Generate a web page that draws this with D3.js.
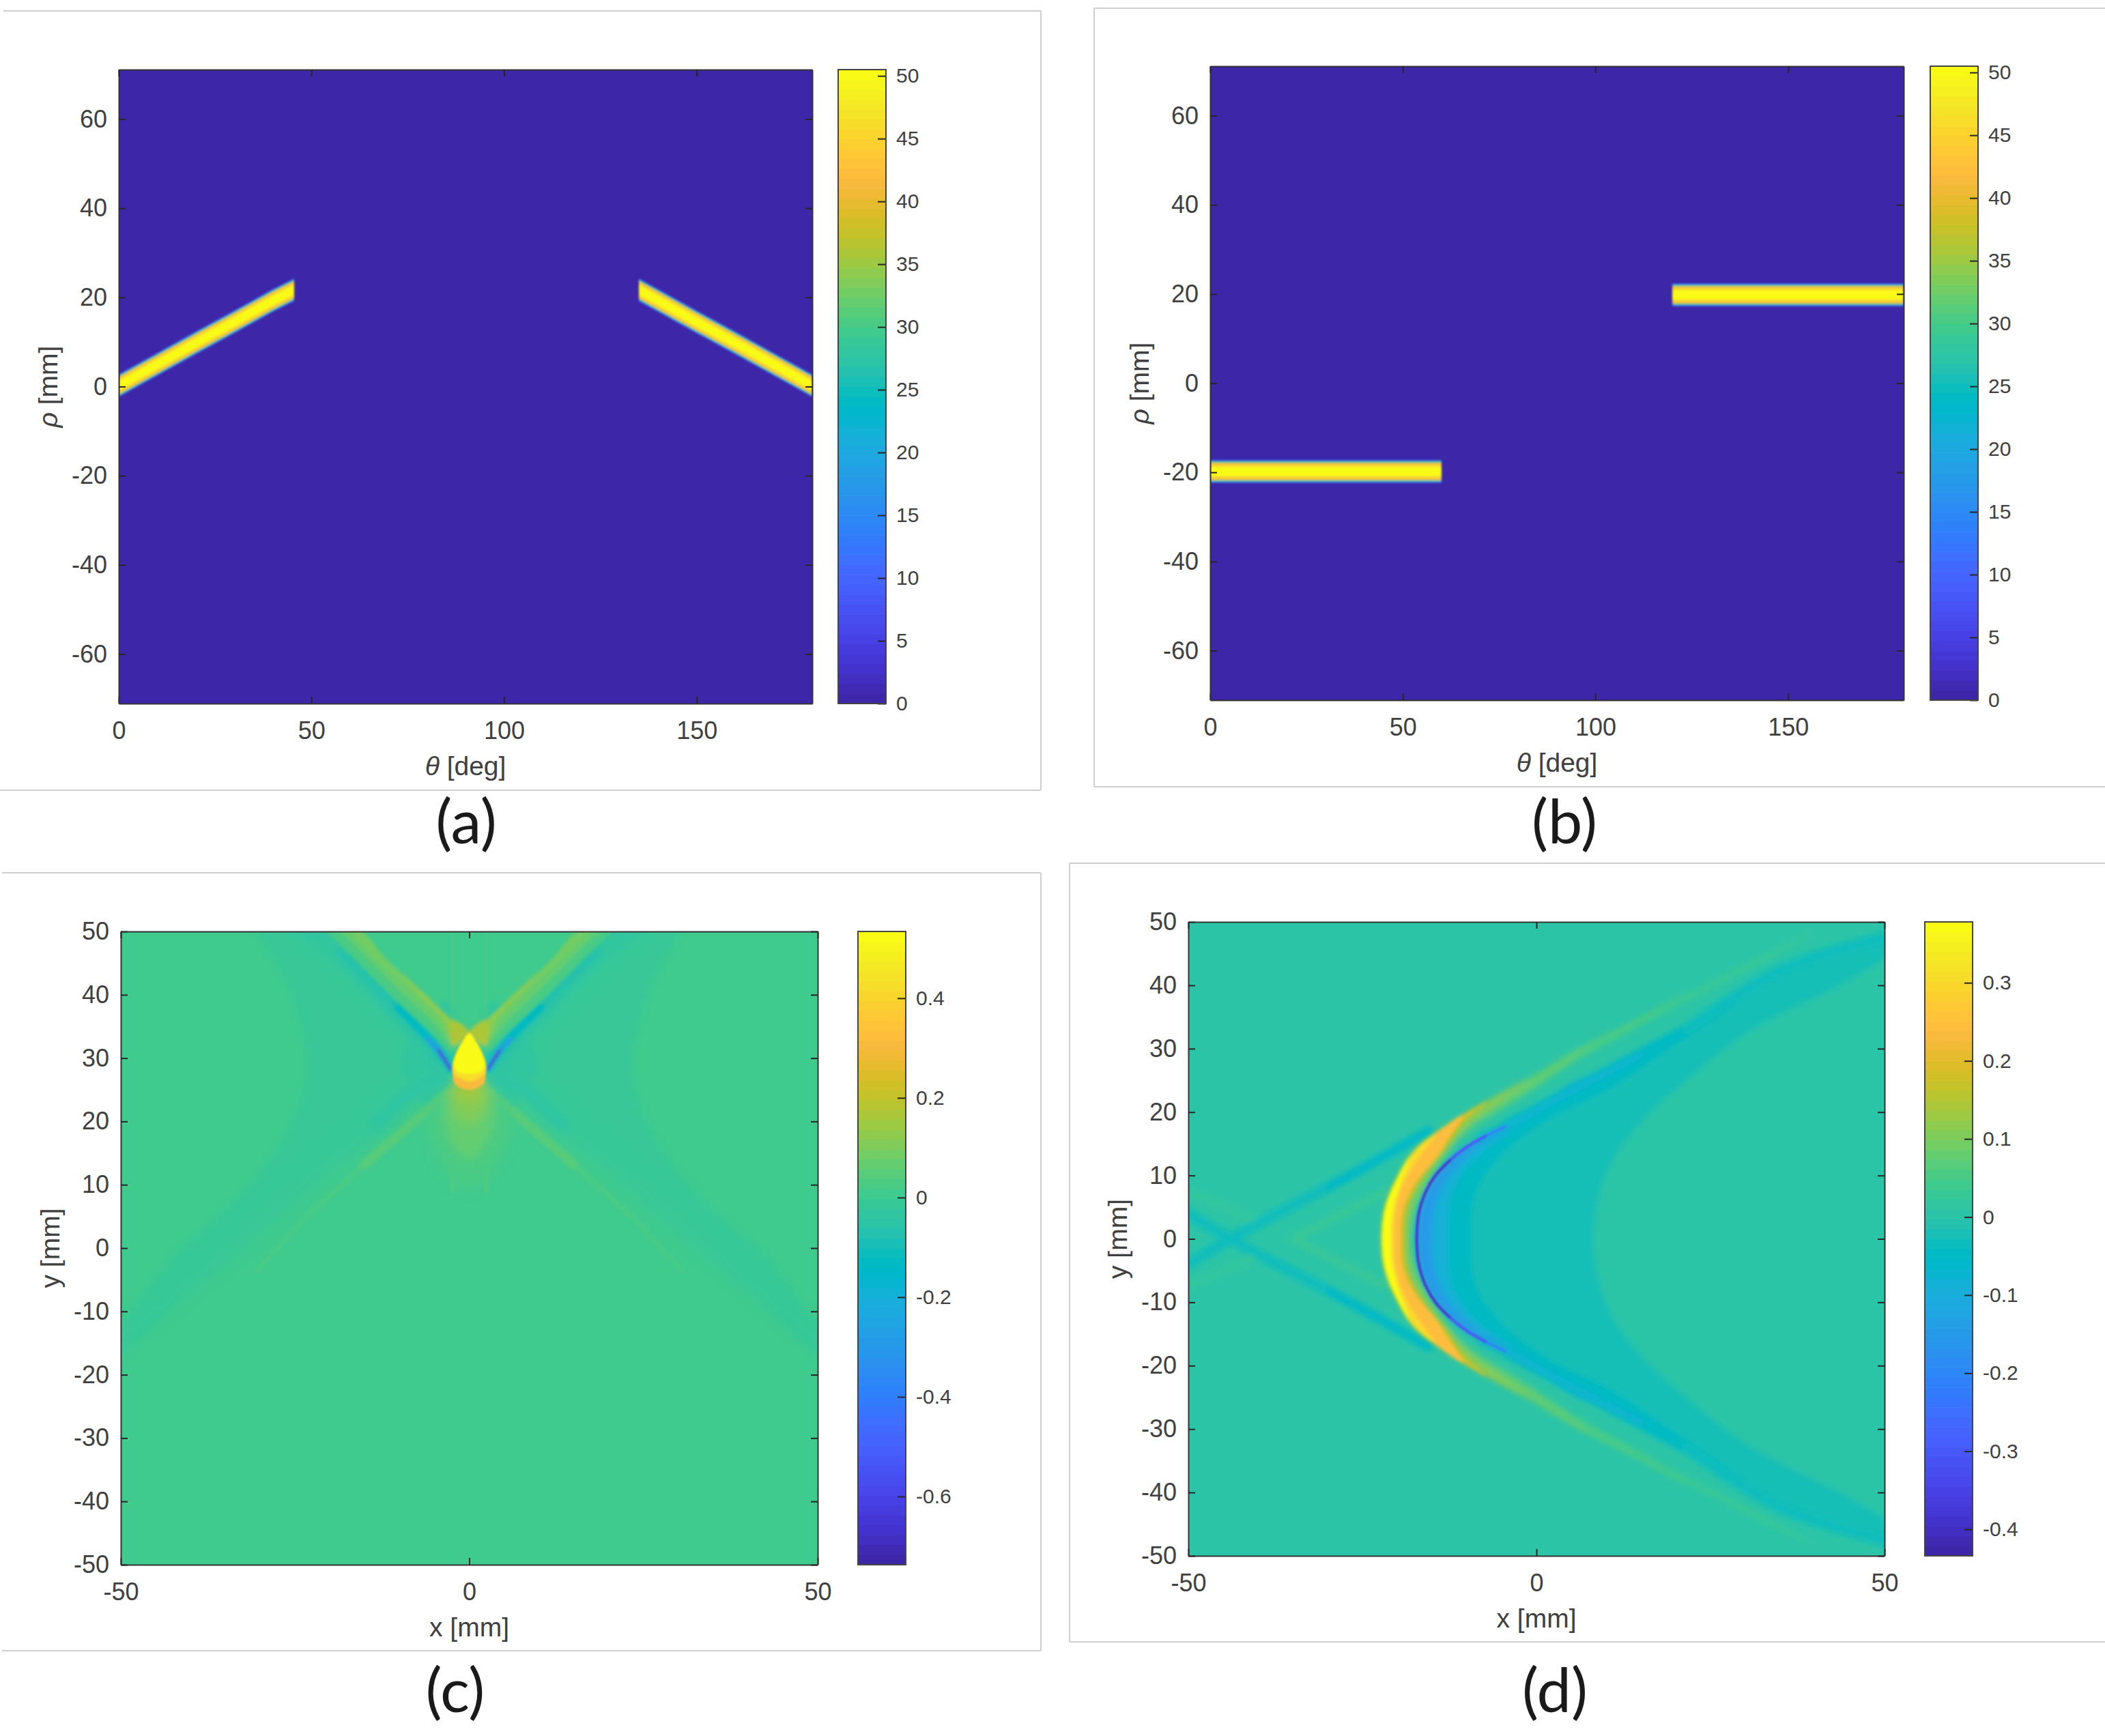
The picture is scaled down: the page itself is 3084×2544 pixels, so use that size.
<!DOCTYPE html>
<html>
<head>
<meta charset="utf-8">
<script src="https://cdn.jsdelivr.net/npm/d3@7"></script>
<style>
  body { margin: 0; background: #fff; }
  text { font-family: "Liberation Sans", Arial, sans-serif; fill: #404040; }
  .panelTag { font-family: Lato, "Open Sans", sans-serif; fill: #1a1a1a; }
</style>
</head>
<body>
<svg id="fig" width="3084" height="2544"></svg>
<script>
// parula colour table, one row per colorbar step
const parula = [
  [.2422,.1504,.6603],[.2504,.1650,.7076],[.2578,.1818,.7511],[.2647,.1978,.7952],
  [.2706,.2147,.8364],[.2751,.2342,.8710],[.2783,.2559,.8991],[.2803,.2782,.9221],
  [.2813,.3006,.9414],[.2810,.3228,.9579],[.2795,.3447,.9717],[.2760,.3667,.9829],
  [.2699,.3892,.9906],[.2602,.4123,.9952],[.2440,.4358,.9988],[.2206,.4603,.9973],
  [.1963,.4847,.9892],[.1834,.5074,.9798],[.1786,.5289,.9682],[.1764,.5499,.9520],
  [.1687,.5703,.9359],[.1540,.5902,.9218],[.1460,.6091,.9079],[.1380,.6276,.8973],
  [.1248,.6459,.8883],[.1113,.6635,.8763],[.0952,.6798,.8598],[.0689,.6948,.8394],
  [.0297,.7082,.8163],[.0036,.7203,.7917],[.0067,.7312,.7660],[.0433,.7411,.7394],
  [.0964,.7500,.7120],[.1408,.7584,.6842],[.1717,.7670,.6554],[.1938,.7758,.6251],
  [.2161,.7843,.5923],[.2470,.7918,.5567],[.2906,.7973,.5188],[.3406,.8008,.4789],
  [.3909,.8029,.4354],[.4456,.8024,.3909],[.5044,.7993,.3480],[.5616,.7942,.3045],
  [.6174,.7876,.2612],[.6720,.7793,.2227],[.7242,.7698,.1910],[.7738,.7598,.1646],
  [.8203,.7498,.1535],[.8634,.7406,.1596],[.9035,.7330,.1774],[.9393,.7288,.2100],
  [.9728,.7298,.2394],[.9956,.7434,.2371],[.9970,.7659,.2199],[.9952,.7893,.2028],
  [.9892,.8136,.1885],[.9786,.8386,.1766],[.9676,.8639,.1643],[.9610,.8890,.1537],
  [.9597,.9135,.1423],[.9628,.9373,.1265],[.9691,.9606,.1064],[.9769,.9839,.0805]
];

// tick values
const thetaTicks = [0, 50, 100, 150];
const rhoTicks = [-60, -40, -20, 0, 20, 40, 60];
const xyTicksX = [-50, 0, 50];
const xyTicksY = [-50, -40, -30, -20, -10, 0, 10, 20, 30, 40, 50];
const sinoBarTicks = [0, 5, 10, 15, 20, 25, 30, 35, 40, 45, 50];
const cBarTicks = [-0.6, -0.4, -0.2, 0, 0.2, 0.4];
const dBarTicks = [-0.4, -0.3, -0.2, -0.1, 0, 0.1, 0.2, 0.3];

// sinogram bands: theta [deg], rho [mm]
const aLeftTheta = [0, 10, 20, 30, 40, 45.5];
const aLeftRho = [0.2, 5.0, 9.8, 14.5, 19.3, 21.7];
const aRightTheta = [135, 140, 150, 160, 170, 180];
const aRightRho = [21.7, 19.3, 14.5, 9.8, 5.0, 0.2];
const bLeftTheta = [0, 60];
const bLeftRho = [-19.8, -19.8];
const bRightTheta = [120, 180];
const bRightRho = [19.8, 19.8];
// half width [mm] and value across a band, outside to core
const bandHalfWidth = [2.55, 2.35, 2.15, 1.85, 1.4, 0.95];
const bandValue = [8, 22, 33, 42, 47, 50.4];

// panel (c), image values. Left half only, mirrored in x when drawn
const cWedgeOuter = [[-30.5,52],[-26,41],[-23.4,29.4],[-25.5,19.8],[-32.6,8.8],[-43.3,-2.2],[-50,-12.5],[-54,-17],[-50,-16.6],[-36.2,-0.8],[-22,12.9],[-8,24],[-3,27],[-3,31],[-10,40],[-20,52]];
const cDiamondOuter = [[-3,39],[-9.8,29],[-3,20]];
const cDiamondInner = [[-2.5,34],[-6.2,29],[-2.5,23.5]];
const cTroughUpFull = [[-2.7,28.3],[-4.4,31.2],[-6.9,34.4],[-10.2,38],[-13.5,42],[-17.7,46.6],[-21.6,49.7],[-24,52]];
const cTroughUpMid = [[-2.7,28.3],[-4.4,31.2],[-6.9,34.4],[-10.2,38],[-13.5,42],[-17.7,46.6]];
const cTroughUpNear = [[-2.7,28.3],[-4.4,31.2],[-6.9,34.4],[-10.2,38]];
const cTroughUpCore = [[-2.7,28.3],[-4.4,31.2],[-6,33]];
const cTroughUpDeep = [[-2.7,28.3],[-4.4,31.2]];
const cTroughDownFull = [[-3,27.5],[-8.6,24.4],[-13.5,19.3],[-20,14],[-36,-1.5],[-52,-16]];
const cTroughDownNear = [[-3,27.5],[-8.6,24.4],[-13.5,19.3]];
const cRidgeDownFar = [[-23.3,5],[-30.5,-3.6]];
const cRidgeDownMid = [[-15,13.2],[-23.3,5]];
const cRidgeDownNear = [[-3,24.4],[-8.6,19.3],[-15,13.2]];
const cStripeUp = [[-2.4,36],[-2.4,50]];
const cStripeDown = [[-2.4,26],[-2.4,9]];
const cRay04 = [[0,34],[-2.4,36],[-6.9,40.6],[-11.8,45.5],[-15.7,50],[-17,52],[-22,52],[-19.5,49],[-10.4,39],[-5.4,34],[-2.4,31]];
const cRay08 = [[0,34],[-2.4,36],[-6.9,40.6],[-11.8,45.5],[-15.7,50],[-17,52],[-20,52],[-18,49.5],[-9.4,40],[-5,35.4],[-2.4,32]];
const cRay12 = [[0,34],[-2.4,36],[-6.9,40.6],[-11.8,45.5],[-15.4,50],[-16.8,50],[-8.6,40.8],[-4.6,36.2],[-2.4,32.6]];
const cRay16 = [[0,34],[-2.4,36],[-6.9,40.6],[-9.8,43.5],[-7,40],[-3.8,36.3],[-2.4,33]];
const cRay20 = [[0,34],[-2.4,36],[-2.4,32]];
// closed over x = 0: start and end on the axis
const cGlow03 = [[0,27],[-6,21],[-4,13],[0,9]];
const cGlow06 = [[0,27],[-3.4,24],[-2.8,17],[0,14]];
const cGlow10 = [[0,27],[-2.7,25],[-2,21],[0,19.5]];
const cGlow16 = [[0,27],[-2.4,26],[-1.6,23.6],[0,23]];
const cDrop30 = [[0,34],[-1,32.6],[-1.8,31],[-2.4,29],[-2.4,27.5],[-2.1,26],[-1,25.2],[0,25]];
const cDrop42 = [[0,34],[-1,32.6],[-1.8,31],[-2.4,29],[-2.2,27.5],[-1,26.6],[0,26.3]];
const cDrop50 = [[0,33.8],[-1,32.4],[-1.7,31],[-2.2,29],[-1.8,28],[0,27.5]];

const cTwinRegions = [[-0.01, cWedgeOuter], [-0.035, cDiamondOuter], [-0.06, cDiamondInner]];
const cTroughsWide = [[-0.035, 4, cTroughUpFull], [-0.07, 2.2, cTroughUpMid], [-0.02, 3, cTroughDownFull], [-0.06, 1.6, cTroughDownNear]];
const cTroughsNarrow = [[-0.13, 1.1, cTroughUpNear], [-0.3, 0.6, cTroughUpCore], [-0.65, 0.4, cTroughUpDeep]];
const cRidges = [[0.018, 0.6, cRidgeDownFar], [0.03, 0.8, cRidgeDownMid], [0.05, 1.4, cRidgeDownNear], [0.035, 0.3, cStripeUp], [0.07, 0.3, cStripeDown]];
const cRays = [[0.035, cRay04], [0.065, cRay08], [0.09, cRay12], [0.12, cRay16], [0.17, cRay20]];
const cGlow = [[0.03, cGlow03], [0.06, cGlow06], [0.1, cGlow10], [0.14, cGlow16]];
const cDrop = [[0.3, cDrop30], [0.42, cDrop42], [0.52, cDrop50]];

// panel (d), image values. Upper half only, mirrored in y when drawn
const dRegion17 = [[-17.2,0],[-16.9,4],[-15.9,7.4],[-14.5,10],[-12.4,12.4],[-10,14.5],[-7.3,16.2],[-4.5,17.7],[2,21.5],[8,25],[10,0]];
const dRegion15 = [[-15,0],[-14.4,6],[-12.6,10],[-9,14],[-4.5,17],[1,21],[8,25.2],[10,0]];
const dRegion13 = [[-12.7,0],[-12.2,7],[-9.3,12.2],[-4.5,16.4],[1,21],[8,25.2],[21.6,33],[30,38],[30,0]];
const dRegion09 = [[-9.3,0],[-8.9,6.7],[-5.9,12.2],[1,18.4],[11.3,24.2],[21.6,32],[35.4,42],[50,47.3],[65,57],[65,0]];
const dRegion08 = [[8.2,0],[9.9,10],[14.7,18],[21.6,25],[30.6,32.7],[43.6,40],[50,44],[65,53],[65,0]];
const dTroughArmNear = [[-4,18],[2,21.5],[8,25],[21.6,33]];
const dTroughArmFar = [[21.6,33],[35.4,42.5],[50,47.5]];
const dTroughNear = [[-8,16],[-4,18],[2,21.5],[8,25],[15,29]];
const dLeftTrough = [[-50,-4],[-44,0],[-39.6,2.6],[-26.5,10.2],[-17.6,15.7],[-15.5,17]];
const dLeftTroughCore = [[-30,8],[-26.5,10.2],[-17.6,15.7],[-15.5,17]];
const dLeftRidge = [[-35,0],[-26.5,4.7],[-21.7,7.4]];
const dFarRidge = [[-50,7.4],[-41,3.3]];
const dArc = [[-17.2,0],[-16.9,4],[-15.9,7.4],[-14.5,10],[-12.4,12.4],[-10,14.5],[-7.3,16.2],[-4.5,17.7]];
const dArcMid = [[-17.2,0],[-16.9,4],[-15.9,7.4],[-14.5,10],[-12.4,12.4],[-10,14.5],[-7.3,16.2]];
const dArcCore = [[-17.2,0],[-16.9,4],[-15.9,7.4],[-14.5,10],[-12.4,12.4]];
const dCrescent025 = [[-22.2,0],[-21.7,5],[-19.8,10],[-17.4,14],[-14,17],[-9,20.5],[-1.5,25],[6,30],[15,35],[24,40],[34,45.5],[40,48.5],[34,44.5],[24,38.7],[15,33.5],[6,28],[-1.5,22.5],[-8,18],[-12,14.5],[-15,10],[-17,5],[-17.9,0]];
const dCrescent05 = [[-22.2,0],[-21.7,5],[-19.8,10],[-17.4,14],[-14,17],[-9,20.5],[-1.5,25],[6,30],[15,35],[22,39],[15,34],[6,28.4],[-1.5,23],[-8,18.4],[-12,14.8],[-15,10.3],[-17.2,5],[-18,0]];
const dCrescent08 = [[-22.2,0],[-21.7,5],[-19.8,10],[-17.4,14],[-14,17],[-9,20.5],[-1.5,25],[8,31],[0,24.4],[-5,20.8],[-10,17.5],[-13,13.5],[-15.5,9],[-17.6,5],[-18.2,0]];
const dCrescent12 = [[-22.2,0],[-21.7,5],[-19.8,10],[-17.4,14],[-14,17],[-9,20.5],[-1,25.2],[-5,22],[-10,17.7],[-13,13.5],[-16,9.5],[-18,5],[-18.5,0]];
const dCrescent18 = [[-22.2,0],[-21.7,5],[-19.8,10],[-17.4,14],[-14,17],[-7,21.7],[-10.5,18.4],[-13.4,14],[-16.5,9.6],[-18.6,5],[-19,0]];
const dCrescent25 = [[-22.2,0],[-21.7,5],[-19.8,10],[-17.4,14],[-14,17],[-10.5,19.5],[-12.6,16],[-14.2,13],[-17.6,8.5],[-19.2,4.5],[-19.5,0]];
const dCrescent31 = [[-22.2,0],[-21.7,5],[-19.8,10],[-17.4,14],[-14.5,16.4],[-16.8,13],[-19,9],[-20.2,5],[-20.5,0]];
const dCrescent37 = [[-22.2,0],[-21.7,5],[-19.8,10],[-18.2,13],[-19.8,8],[-20.8,3.5],[-20.9,0]];

const dRegions = [[-0.15, dRegion17], [-0.085, dRegion15], [-0.045, dRegion13], [-0.02, dRegion09], [0.005, dRegion08]];
const dTroughs = [[-0.05, 1.6, dTroughArmNear], [-0.028, 1.6, dTroughArmFar], [-0.075, 1, dTroughNear], [-0.03, 1.4, dLeftTrough], [-0.065, 0.8, dLeftTroughCore], [0.03, 1.2, dLeftRidge], [0.02, 1.5, dFarRidge]];
const dCrescentArm = [[0.025, dCrescent025], [0.05, dCrescent05], [0.08, dCrescent08], [0.12, dCrescent12]];
const dCrescentCore = [[0.18, dCrescent18], [0.25, dCrescent25], [0.31, dCrescent31], [0.37, dCrescent37]];
const dArcs = [[-0.2, 0.45, dArc], [-0.3, 0.4, dArcMid], [-0.4, 0.3, dArcCore]];

const svg = d3.select("#fig");
const defs = svg.append("defs");

const blurs = [1.5, 2.5, 4, 8];
blurs.forEach(b => {
  defs.append("filter").attr("id", "blur" + String(b).replace(".", "_"))
      .attr("x", "-10%").attr("y", "-10%").attr("width", "120%").attr("height", "120%")
      .append("feGaussianBlur").attr("stdDeviation", b);
});
const blurUrl = b => `url(#blur${String(b).replace(".", "_")})`;

const parulaHex = parula.map(c => d3.rgb(c[0] * 255, c[1] * 255, c[2] * 255).formatHex());

function makeColor(lo, hi) {
  return d3.scaleQuantize().domain([lo, hi]).range(parulaHex);
}

// axes box, ticks on all four sides like matlab
function drawAxes(p, g, x, y, xTicks, yTicks, xLabel, yLabel) {
  const tick = 10;
  const fmt = d => String(d);
  const styleAxis = a => {
    a.selectAll("path").attr("stroke", "#333").attr("stroke-width", 2);
    a.selectAll("line").attr("stroke", "#262626").attr("stroke-width", 2);
    a.selectAll("text").style("font-size", "36px").attr("fill", "#404040");
  };
  g.append("g").attr("transform", `translate(0,${p.bottom})`)
    .call(d3.axisBottom(x).tickValues(xTicks).tickSizeInner(-tick).tickSizeOuter(0).tickPadding(26).tickFormat(fmt)).call(styleAxis);
  g.append("g").attr("transform", `translate(${p.left},0)`)
    .call(d3.axisLeft(y).tickValues(yTicks).tickSizeInner(-tick).tickSizeOuter(0).tickPadding(17).tickFormat(fmt)).call(styleAxis);
  g.append("g").attr("transform", `translate(0,${p.top})`)
    .call(d3.axisTop(x).tickValues(xTicks).tickSizeInner(-tick).tickSizeOuter(0).tickFormat("")).call(styleAxis);
  g.append("g").attr("transform", `translate(${p.right},0)`)
    .call(d3.axisRight(y).tickValues(yTicks).tickSizeInner(-tick).tickSizeOuter(0).tickFormat("")).call(styleAxis);

  const xl = g.append("text").attr("x", (p.left + p.right) / 2).attr("y", p.bottom + 105)
    .attr("text-anchor", "middle").style("font-size", "39px");
  xLabel.forEach(t => xl.append("tspan").attr("font-style", t[1]).text(t[0]));
  const yl = g.append("text")
    .attr("transform", `translate(${p.left - 90},${(p.top + p.bottom) / 2}) rotate(-90)`)
    .attr("text-anchor", "middle").style("font-size", "39px");
  yLabel.forEach(t => yl.append("tspan").attr("font-style", t[1]).text(t[0]));
}

function drawColorbar(p, g, lo, hi, ticks) {
  const bar = d3.scaleLinear().domain([lo, hi]).range([p.bottom, p.top]);
  const step = (hi - lo) / parulaHex.length;
  g.append("g").selectAll("rect").data(parulaHex).join("rect")
    .attr("x", p.barLeft)
    .attr("width", p.barRight - p.barLeft)
    .attr("y", (d, i) => bar(lo + (i + 1) * step))
    .attr("height", (d, i) => bar(lo + i * step) - bar(lo + (i + 1) * step) + 0.6)
    .attr("fill", d => d);
  const ax = g.append("g").attr("transform", `translate(${p.barRight},0)`)
    .call(d3.axisRight(bar).tickValues(ticks).tickSizeInner(-12).tickSizeOuter(0).tickPadding(15).tickFormat(d => String(d)));
  ax.select("path").remove();
  ax.selectAll("line").attr("stroke", "#262626").attr("stroke-width", 2);
  ax.selectAll("text").style("font-size", "30px").attr("fill", "#404040");
  g.append("rect").attr("x", p.barLeft).attr("y", p.top)
    .attr("width", p.barRight - p.barLeft).attr("height", p.bottom - p.top)
    .attr("fill", "none").attr("stroke", "#444").attr("stroke-width", 2);
}

function plotClip(id, p) {
  defs.append("clipPath").attr("id", id).append("rect")
    .attr("x", p.left).attr("y", p.top)
    .attr("width", p.right - p.left).attr("height", p.bottom - p.top);
}

// filled bands of the sinograms, drawn outside to core
function drawBand(g, x, y, color, thetas, rhos) {
  const pts = thetas.map((t, i) => [t, rhos[i]]);
  bandHalfWidth.forEach((hw, i) => {
    const area = d3.area()
      .x(d => x(d[0]))
      .y0(d => y(d[1] - hw))
      .y1(d => y(d[1] + hw));
    g.append("path").attr("d", area(pts)).attr("fill", color(bandValue[i]));
  });
}

function sinoPanel(id, p, bands, tag) {
  const g = svg.append("g");
  const x = d3.scaleLinear().domain([0, 180]).range([p.left, p.right]);
  const y = d3.scaleLinear().domain([-71.1, 71.1]).range([p.bottom, p.top]);
  const color = makeColor(0, 50.5);
  plotClip(id, p);
  g.append("rect").attr("x", p.left).attr("y", p.top)
    .attr("width", p.right - p.left).attr("height", p.bottom - p.top)
    .attr("fill", color(0));
  const heat = g.append("g").attr("clip-path", `url(#${id})`).append("g").attr("filter", blurUrl(1.5));
  bands.forEach(b => drawBand(heat, x, y, color, b[0], b[1]));
  drawAxes(p, g, x, y, thetaTicks, rhoTicks, [["\u03b8", "italic"], [" [deg]", "normal"]], [["\u03c1", "italic"], [" [mm]", "normal"]]);
  drawColorbar(p, g, 0, 50.5, sinoBarTicks);
  g.append("text").attr("class", "panelTag").attr("x", tag[0]).attr("y", tag[1])
    .attr("text-anchor", "middle").style("font-size", "90px").text(tag[2]);
}

function fieldPanel(id, p, lo, hi, bg, barTicks, axis, stacks, tag) {
  const g = svg.append("g");
  const x = d3.scaleLinear().domain([-50, 50]).range([p.left, p.right]);
  const y = d3.scaleLinear().domain([-50, 50]).range([p.bottom, p.top]);
  const color = makeColor(lo, hi);
  const mm = x(1) - x(0);
  plotClip(id, p);
  g.append("rect").attr("x", p.left).attr("y", p.top)
    .attr("width", p.right - p.left).attr("height", p.bottom - p.top)
    .attr("fill", color(bg));
  const mirror = axis === "x" ? d => [-d[0], d[1]] : d => [d[0], -d[1]];
  const closed = d3.line().x(d => x(d[0])).y(d => y(d[1])).curve(d3.curveCatmullRomClosed.alpha(0.5));
  const open = d3.line().x(d => x(d[0])).y(d => y(d[1])).curve(d3.curveCatmullRom.alpha(0.5));
  const clip = g.append("g").attr("clip-path", `url(#${id})`);

  stacks.forEach(s => {
    const layer = clip.append("g").attr("filter", blurUrl(s.blur));
    s.rows.forEach(r => {
      if (s.kind === "join") {
        const pts = r[1].concat(r[1].slice(1, -1).reverse().map(mirror));
        layer.append("path").attr("d", closed(pts)).attr("fill", color(r[0]));
      } else if (s.kind === "twin") {
        layer.append("path").attr("d", closed(r[1])).attr("fill", color(r[0]));
        layer.append("path").attr("d", closed(r[1].map(mirror))).attr("fill", color(r[0]));
      } else {
        [r[2], r[2].map(mirror)].forEach(pts => {
          layer.append("path").attr("d", open(pts)).attr("fill", "none")
            .attr("stroke", color(r[0])).attr("stroke-width", r[1] * mm)
            .attr("stroke-linecap", "round");
        });
      }
    });
  });

  drawAxes(p, g, x, y, xyTicksX, xyTicksY, [["x [mm]", "normal"]], [["y [mm]", "normal"]]);
  drawColorbar(p, g, lo, hi, barTicks);
  g.append("text").attr("class", "panelTag").attr("x", tag[0]).attr("y", tag[1])
    .attr("text-anchor", "middle").style("font-size", "90px").text(tag[2]);
}

// grey outlines left over from the pasted screenshots
const frameLines = [
  [5, 16, 1525, 16], [1525, 16, 1525, 1158], [0, 1158, 1525, 1158],
  [1603, 12, 3084, 12], [1603, 12, 1603, 1153], [1603, 1153, 3084, 1153],
  [3, 1279, 1525, 1279], [1525, 1279, 1525, 2419], [3, 2419, 1525, 2419],
  [1567, 1265, 3084, 1265], [1567, 1265, 1567, 2406], [1567, 2406, 3084, 2406]
];
svg.append("g").selectAll("line").data(frameLines).join("line")
  .attr("x1", d => d[0]).attr("y1", d => d[1]).attr("x2", d => d[2]).attr("y2", d => d[3])
  .attr("stroke", "#cfcfcf").attr("stroke-width", 2);

sinoPanel("clipA", { left: 174, right: 1190, top: 102, bottom: 1031, barLeft: 1228, barRight: 1298 },
  [[aLeftTheta, aLeftRho], [aRightTheta, aRightRho]], [683, 1236, "(a)"]);

sinoPanel("clipB", { left: 1773, right: 2789, top: 97, bottom: 1026, barLeft: 2828, barRight: 2898 },
  [[bLeftTheta, bLeftRho], [bRightTheta, bRightRho]], [2292, 1236, "(b)"]);

fieldPanel("clipC", { left: 177, right: 1198, top: 1365, bottom: 2293, barLeft: 1257, barRight: 1327 },
  -0.737, 0.534, 0.01, cBarTicks, "x", [
    { kind: "twin", blur: 4, rows: cTwinRegions },
    { kind: "line", blur: 8, rows: cTroughsWide },
    { kind: "line", blur: 2.5, rows: cTroughsNarrow },
    { kind: "line", blur: 2.5, rows: cRidges },
    { kind: "twin", blur: 2.5, rows: cRays },
    { kind: "join", blur: 8, rows: cGlow },
    { kind: "join", blur: 1.5, rows: cDrop }
  ], [667, 2509, "(c)"]);

fieldPanel("clipD", { left: 1741, right: 2761, top: 1351, bottom: 2280, barLeft: 2820, barRight: 2890 },
  -0.434, 0.378, 0.005, dBarTicks, "y", [
    { kind: "join", blur: 4, rows: dRegions },
    { kind: "line", blur: 4, rows: dTroughs },
    { kind: "join", blur: 4, rows: dCrescentArm },
    { kind: "join", blur: 2.5, rows: dCrescentCore },
    { kind: "line", blur: 1.5, rows: dArcs }
  ], [2278, 2509, "(d)"]);
</script>
</body>
</html>
